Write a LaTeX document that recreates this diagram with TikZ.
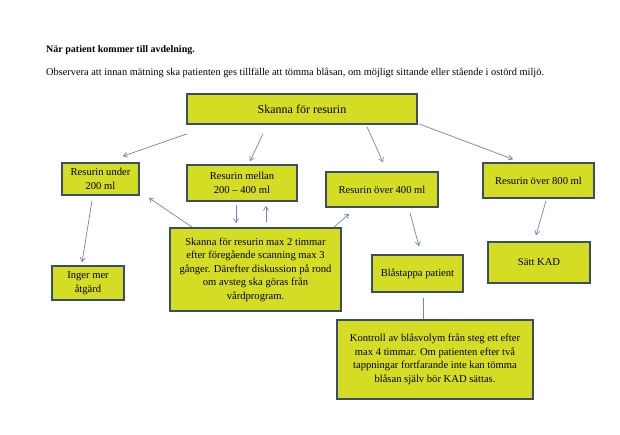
\documentclass[tikz,border=0pt]{standalone}
\usepackage{fontspec}
\setmainfont{Liberation Serif}
\usepackage{xcolor}
\usetikzlibrary{arrows.meta}
\definecolor{boxfill}{RGB}{213,220,36}
\definecolor{boxline}{RGB}{58,78,102}
\definecolor{arrline}{RGB}{112,134,180}

\begin{document}
\begin{tikzpicture}[x=1pt, y=-1pt,
  box/.style={draw=boxline, line width=1.6pt, fill=boxfill, inner sep=2pt,
              font=\fontsize{10.6}{13.5}\selectfont, align=center},
  arr/.style={draw=arrline, line width=0.7pt, -{Straight Barb[length=4pt,width=5pt]}},
  lnk/.style={draw=arrline, line width=0.7pt},
]
\useasboundingbox[fill=white] (0,0) rectangle (620,434);
% --- Heading ---
\node[anchor=base west, inner sep=0pt, font=\fontsize{10}{12}\selectfont\bfseries]
  (title) at (46,52) {När patient kommer till avdelning.};
\node[anchor=base west, inner sep=0pt, font=\fontsize{10.35}{12}\selectfont]
  (note) at (46,75) {Observera att innan mätning ska patienten ges tillfälle att tömma blåsan, om möjligt sittande eller stående i ostörd miljö.};
% --- Scan (row 0) ---
\node[box, minimum width=230, minimum height=30, font=\fontsize{12}{13}\selectfont]
  (scan) at (302,109) {Skanna för resurin};
% --- Results (row 1) ---
\node[box, minimum width=77, minimum height=32] (under) at (100.5,179) {Resurin under\\200 ml};
\node[box, minimum width=110, minimum height=36] (mellan) at (242,183) {Resurin mellan\\200 -- 400 ml};
\node[box, minimum width=112, minimum height=35] (over4) at (382,189.5) {Resurin över 400 ml};
\node[box, minimum width=111, minimum height=35] (over8) at (538.5,180.5) {Resurin över 800 ml};
% --- Actions (row 2) ---
\node[box, minimum width=72, minimum height=34] (inger) at (88,283) {Inger mer\\åtgärd};
\node[box, minimum width=171, minimum height=83] (rescan) at (255.5,269.5)
  {Skanna för resurin max 2 timmar\\efter föregående scanning max 3\\gånger. Därefter diskussion på rond\\om avsteg ska göras från\\vårdprogram.};
\node[box, minimum width=91, minimum height=37] (tappa) at (417.5,273.5) {Blåstappa patient};
\node[box, minimum width=102, minimum height=41] (kad) at (539,262.5) {Sätt KAD};
% --- Follow-up (row 3) ---
\node[box, minimum width=196, minimum height=79] (kontroll) at (435,359.5)
  {Kontroll av blåsvolym från steg ett efter\\max 4 timmar. Om patienten efter två\\tappningar fortfarande inte kan tömma\\blåsan själv bör KAD sättas.};
% --- Arrows from the scan ---
\draw[arr] ([shift={(1,9)}]scan.south west) -- ([shift={(-17,-6)}]under.north east);
\draw[arr] ([shift={(-39,9)}]scan.south) -- ([shift={(8,-3)}]mellan.north);
\draw[arr] ([shift={(65,2)}]scan.south) -- ([shift={(1,-9)}]over4.north);
\draw[arr] ([shift={(1,-1)}]scan.south east) -- ([shift={(-25.5,-3)}]over8.north);
% --- Arrows from the results ---
\draw[arr] ([shift={(-8.5,5)}]under.south) -- ([shift={(-6,-3)}]inger.north);
\draw[arr] ([shift={(-6,3)}]mellan.south) -- ([shift={(-19.5,-4)}]rescan.north);
\draw[arr] ([shift={(28,5)}]over4.south) -- ([shift={(1.5,-8)}]tappa.north);
\draw[arr] ([shift={(7.5,2)}]over8.south) -- ([shift={(-3,-6)}]kad.north);
% --- Arrows back from the rescan ---
\draw[arr] ([shift={(10.5,-5)}]rescan.north) -- ([shift={(24,4)}]mellan.south);
\draw[arr] ([shift={(23,0)}]rescan.north west) -- ([shift={(9,2)}]under.south east);
\draw[arr] ([shift={(-8,0)}]rescan.north east) -- ([shift={(24,6)}]over4.south west);
% --- Link to the follow-up ---
\draw[lnk] ([shift={(5.5,5)}]tappa.south) -- ([shift={(-12,0)}]kontroll.north);
\end{tikzpicture}
\end{document}
